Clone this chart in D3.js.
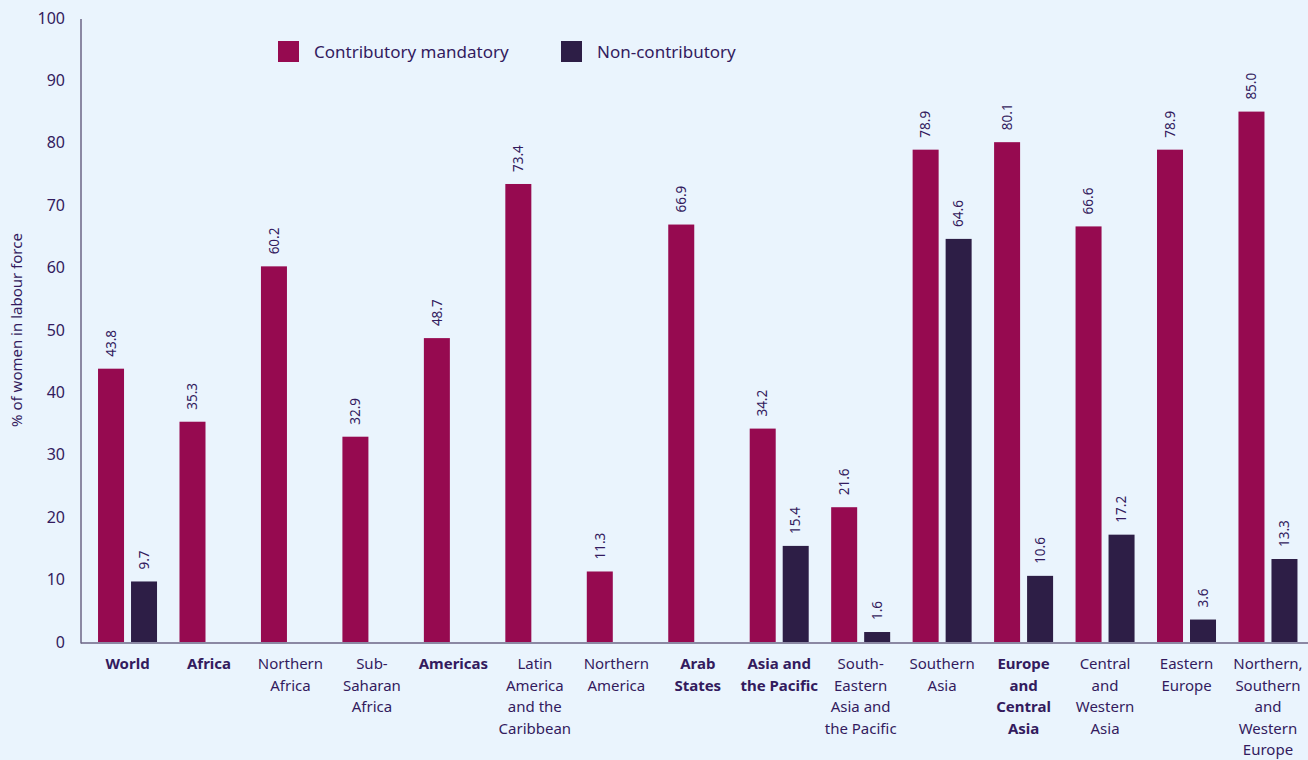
<!DOCTYPE html>
<html>
<head>
<meta charset="utf-8">
<script src="https://cdn.jsdelivr.net/npm/d3@7"></script>
<style>
  html, body { margin: 0; padding: 0; background: #eaf4fd; }
  svg { display: block; font-family: "Noto Sans", sans-serif; }
</style>
</head>
<body>
<div id="chart"></div>
<script>
// ---------- Data ----------
const categories = [
  "World", "Africa", "Northern Africa", "Sub-Saharan Africa", "Americas",
  "Latin America and the Caribbean", "Northern America", "Arab States",
  "Asia and the Pacific", "South-Eastern Asia and the Pacific", "Southern Asia",
  "Europe and Central Asia", "Central and Western Asia", "Eastern Europe",
  "Northern, Southern and Western Europe"
];
// label lines as printed under the axis
const labelLines = [
  ["World"], ["Africa"], ["Northern", "Africa"], ["Sub-", "Saharan", "Africa"],
  ["Americas"], ["Latin", "America", "and the", "Caribbean"], ["Northern", "America"],
  ["Arab", "States"], ["Asia and", "the Pacific"], ["South-", "Eastern", "Asia and", "the Pacific"],
  ["Southern", "Asia"], ["Europe", "and", "Central", "Asia"], ["Central", "and", "Western", "Asia"],
  ["Eastern", "Europe"], ["Northern,", "Southern", "and", "Western", "Europe"]
];
const boldCategories = ["World", "Africa", "Americas", "Arab States", "Asia and the Pacific", "Europe and Central Asia"];

const contributory = [43.8, 35.3, 60.2, 32.9, 48.7, 73.4, 11.3, 66.9, 34.2, 21.6, 78.9, 80.1, 66.6, 78.9, 85.0];
const nonContributory = [9.7, null, null, null, null, null, null, null, 15.4, 1.6, 64.6, 10.6, 17.2, 3.6, 13.3];

const seriesNames = ["Contributory mandatory", "Non-contributory"];
const seriesColors = ["#960a50", "#2d1e46"];
const yTicks = [0, 10, 20, 30, 40, 50, 60, 70, 80, 90, 100];

// ---------- Layout ----------
const W = 1308, H = 760;
const axisX = 81;
const textColor = "#331b5e";

const svg = d3.select("#chart").append("svg")
  .attr("width", W).attr("height", H);

svg.append("rect").attr("width", W).attr("height", H).attr("fill", "#eaf4fd");

const y = d3.scaleLinear().domain([0, 100]).range([642, 18]);

const x0 = d3.scaleBand().domain(categories).range([86.8, 1308.7]);
const bw = x0.bandwidth();
const x1 = d3.scaleBand().domain(seriesNames)
  .range([(bw - 59) / 2, (bw + 59) / 2])
  .paddingInner(0.212);

const rows = categories.map((c, i) => ({
  cat: c,
  vals: [contributory[i], nonContributory[i]]
}));

// ---------- Y axis ----------
svg.append("line")
  .attr("x1", axisX).attr("x2", axisX)
  .attr("y1", 19).attr("y2", 643.5)
  .attr("stroke", "#6b6585").attr("stroke-width", 1.5);

svg.append("g").selectAll("text")
  .data(yTicks)
  .join("text")
  .attr("x", 65)
  .attr("y", d => y(d))
  .attr("dy", "0.35em")
  .attr("text-anchor", "end")
  .attr("fill", textColor)
  .style("font-size", "16px")
  .text(d => d);

svg.append("text")
  .attr("transform", `translate(22,${330}) rotate(-90)`)
  .attr("text-anchor", "middle")
  .attr("fill", textColor)
  .style("font-size", "15px")
  .text("% of women in labour force");

// ---------- Bars ----------
const groups = svg.append("g").selectAll("g")
  .data(rows)
  .join("g")
  .attr("transform", d => `translate(${x0(d.cat)},0)`);

const cells = groups.selectAll("g.cell")
  .data(d => d.vals.map((v, k) => ({ key: seriesNames[k], v, k })).filter(e => e.v != null))
  .join("g").attr("class", "cell");

cells.append("rect")
  .attr("x", d => x1(d.key))
  .attr("y", d => y(d.v))
  .attr("width", x1.bandwidth())
  .attr("height", d => y(0) - y(d.v))
  .attr("fill", d => seriesColors[d.k]);

cells.append("text")
  .attr("transform", d => `translate(${x1(d.key) + x1.bandwidth() / 2},${y(d.v) - 12}) rotate(-90)`)
  .attr("dy", "0.35em")
  .attr("fill", textColor)
  .style("font-size", "13.5px")
  .text(d => d.v.toFixed(1));

// ---------- X axis ----------
svg.append("line")
  .attr("x1", axisX).attr("x2", W)
  .attr("y1", 643).attr("y2", 643)
  .attr("stroke", "#6b6585").attr("stroke-width", 1.5);

const xl = svg.append("g").selectAll("text")
  .data(categories)
  .join("text")
  .attr("text-anchor", "middle")
  .attr("fill", textColor)
  .style("font-size", "15px")
  .style("font-weight", d => boldCategories.includes(d) ? "700" : "400")
  .attr("transform", d => `translate(${x0(d) + bw / 2},0)`);

xl.selectAll("tspan")
  .data((d, i) => labelLines[i])
  .join("tspan")
  .attr("x", 0)
  .attr("y", (d, j) => 669 + j * 21.5)
  .text(d => d);

// ---------- Legend ----------
const legendX = [278, 561];
const legend = svg.append("g").selectAll("g")
  .data(seriesNames)
  .join("g")
  .attr("transform", (d, i) => `translate(${legendX[i]},41)`);

legend.append("rect")
  .attr("width", 21).attr("height", 21)
  .attr("fill", (d, i) => seriesColors[i]);

legend.append("text")
  .attr("x", 36).attr("y", 11)
  .attr("dy", "0.35em")
  .attr("fill", textColor)
  .style("font-size", "17px")
  .text(d => d);
</script>
</body>
</html>
